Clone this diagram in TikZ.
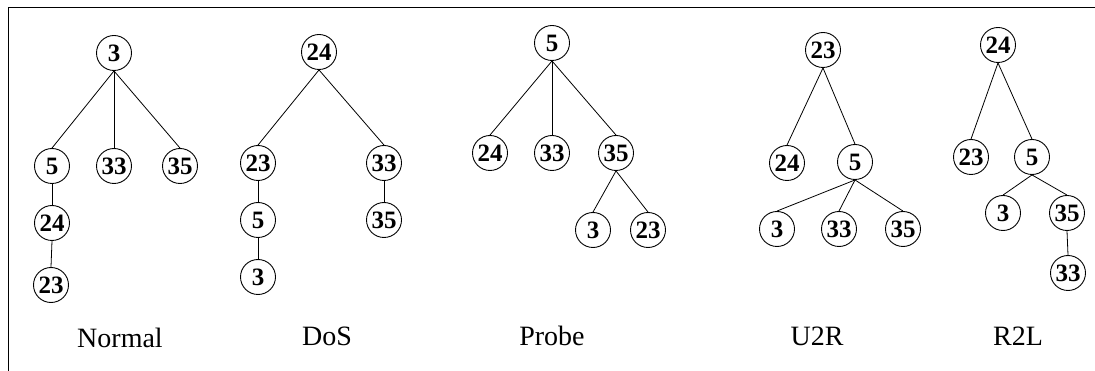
\documentclass[tikz,border=0pt]{standalone}
\usepackage{fontspec}
\setmainfont{Liberation Serif}
\begin{document}
\begin{tikzpicture}[x=1pt,y=-1pt,
  tn/.style={circle,draw,line width=0.9pt,minimum size=35pt,inner sep=0pt,font=\fontsize{25}{25}\selectfont\bfseries},
  edge/.style={line width=0.8pt},
  lbl/.style={anchor=base,font=\fontsize{28}{28}\selectfont}]
\useasboundingbox (0,0) rectangle (1095,371);
\draw[line width=1pt] (8,371) -- (8,8) -- (1095,8);
% Normal
\node[tn] (n1) at (114,53) {3};
\node[tn] (n2) at (52,166) {5};
\node[tn] (n3) at (114,166) {33};
\node[tn] (n4) at (180,166) {35};
\node[tn] (n5) at (52,223) {24};
\node[tn] (n6) at (51,285) {23};
\draw[edge] (n1.south) -- (n2.north);
\draw[edge] (n1.south) -- (n3.north);
\draw[edge] (n1.south) -- (n4.north);
\draw[edge] (n2.south) -- (n5.north);
\draw[edge] (n5.south) -- (n6.north);
\node[lbl] (ln) at (120,347) {Normal};
% DoS
\node[tn] (d1) at (319,52) {24};
\node[tn] (d2) at (258,163) {23};
\node[tn] (d3) at (384,163) {33};
\node[tn] (d4) at (258,220) {5};
\node[tn] (d5) at (384,220) {35};
\node[tn] (d6) at (258,277) {3};
\draw[edge] (d1.south) -- (d2.north);
\draw[edge] (d1.south) -- (d3.north);
\draw[edge] (d2.south) -- (d4.north);
\draw[edge] (d4.south) -- (d6.north);
\draw[edge] (d3.south) -- (d5.north);
\node[lbl] (ld) at (327,345) {DoS};
% Probe
\node[tn] (p1) at (552,43) {5};
\node[tn] (p2) at (490,153) {24};
\node[tn] (p3) at (552,153) {33};
\node[tn] (p4) at (616,153) {35};
\node[tn] (p5) at (593,230) {3};
\node[tn] (p6) at (648,230) {23};
\draw[edge] (p1.south) -- (p2.north);
\draw[edge] (p1.south) -- (p3.north);
\draw[edge] (p1.south) -- (p4.north);
\draw[edge] (p4.south) -- (p5.north);
\draw[edge] (p4.south) -- (p6.north);
\node[lbl] (lp) at (552,345) {Probe};
% U2R
\node[tn] (u1) at (823,50) {23};
\node[tn] (u2) at (787,163) {24};
\node[tn] (u3) at (855,162) {5};
\node[tn] (u4) at (777,229) {3};
\node[tn] (u5) at (839,229) {33};
\node[tn] (u6) at (903,229) {35};
\draw[edge] (u1.south) -- (u2.north);
\draw[edge] (u1.south) -- (u3.north);
\draw[edge] (u3.south) -- (u4.north);
\draw[edge] (u3.south) -- (u5.north);
\draw[edge] (u3.south) -- (u6.north);
\node[lbl] (lu) at (817,345) {U2R};
% R2L
\node[tn] (r1) at (998,45) {24};
\node[tn] (r2) at (971,157) {23};
\node[tn] (r3) at (1032,157) {5};
\node[tn] (r4) at (1003,213) {3};
\node[tn] (r5) at (1067,213) {35};
\node[tn] (r6) at (1068,273) {33};
\draw[edge] (r1.south) -- (r2.north);
\draw[edge] (r1.south) -- (r3.north);
\draw[edge] (r3.south) -- (r4.north);
\draw[edge] (r3.south) -- (r5.north);
\draw[edge] (r5.south) -- (r6.north);
\node[lbl] (lr) at (1018,345) {R2L};
\end{tikzpicture}
\end{document}
